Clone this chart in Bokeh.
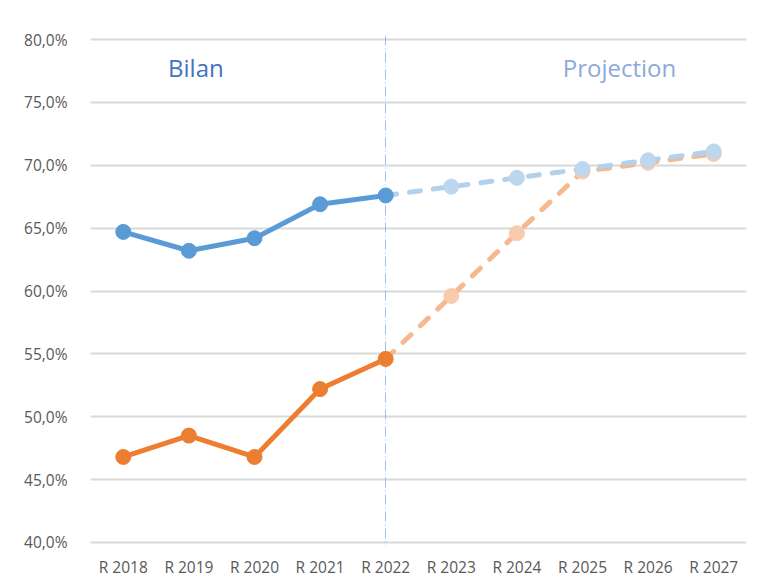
from bokeh.plotting import figure
from bokeh.models import Range1d, FactorRange, FixedTicker, CustomJSTickFormatter
from bokeh.core.properties import value
from bokeh.embed import file_html
from bokeh.resources import INLINE

# ---- data ----
categories = ["R 2018", "R 2019", "R 2020", "R 2021", "R 2022",
              "R 2023", "R 2024", "R 2025", "R 2026", "R 2027"]
bilan_years = categories[:5]
proj_years = categories[5:]
blue_bilan = [64.7, 63.2, 64.2, 66.9, 67.6]
orange_bilan = [46.8, 48.5, 46.8, 52.2, 54.6]
blue_proj = [68.3, 69.0, 69.7, 70.4, 71.1]
orange_proj = [59.6, 64.6, 69.5, 70.2, 70.9]
y_ticks = [40, 45, 50, 55, 60, 65, 70, 75, 80]
split_year = "R 2022"
section_labels = ["Bilan", "Projection"]

FONT = "Open Sans"
BLUE = "#5B9BD5"
ORANGE = "#ED7D31"
BLUE_L = "#BDD7EE"
ORANGE_L = "#F8CBAD"

p = figure(width=757, height=580, x_range=FactorRange(*categories, range_padding=0),
           y_range=Range1d(40 - 0.32, 80 + 0.32),
           output_backend="svg", toolbar_location=None,
           min_border_left=90, min_border_right=11, min_border_top=35, min_border_bottom=34)
p.outline_line_color = None
p.background_fill_color = "white"
p.border_fill_color = "white"

# axes
p.yaxis.ticker = FixedTicker(ticks=y_ticks)
p.yaxis.formatter = CustomJSTickFormatter(code="return tick.toFixed(1).replace('.', ',') + '%';")
for ax in (p.xaxis[0], p.yaxis[0]):
    ax.axis_line_color = None
    ax.major_tick_line_color = None
    ax.minor_tick_line_color = None
    ax.major_label_text_font = FONT
    ax.major_label_text_font_size = "15.5px"
    ax.major_label_text_color = "#595959"
p.yaxis.major_label_standoff = 17
p.xaxis.major_label_standoff = 3
p.xgrid.grid_line_color = None
p.ygrid.grid_line_color = "#d9d9d9"
p.ygrid.grid_line_width = 2

# divider
p.vspan(x=[split_year], line_color="#5B9BD5", line_alpha=0.6, line_width=1,
        line_dash="10 3 1 3")

# projection lines (start from last bilan point)
px = [bilan_years[-1]] + proj_years
p.line(px, [orange_bilan[-1]] + orange_proj, line_color="#F5B88F", line_width=5,
       line_dash="11 13", line_cap="round")
p.scatter(proj_years, orange_proj, size=15, fill_color=ORANGE_L, line_color=ORANGE_L)
p.line(px, [blue_bilan[-1]] + blue_proj, line_color="#B3D0EC", line_width=5,
       line_dash="11 13", line_cap="round")
p.scatter(proj_years, blue_proj, size=15, fill_color=BLUE_L, line_color=BLUE_L)

# bilan lines
p.line(bilan_years, orange_bilan, line_color=ORANGE, line_width=5, line_join="round")
p.scatter(bilan_years, orange_bilan, size=15, fill_color=ORANGE, line_color=ORANGE)
p.line(bilan_years, blue_bilan, line_color=BLUE, line_width=5, line_join="round")
p.scatter(bilan_years, blue_bilan, size=15, fill_color=BLUE, line_color=BLUE)

# section labels
p.text(x=["R 2019"], y=[77.8], text=[section_labels[0]], x_offset=7,
       text_font=value(FONT), text_font_size="24px", text_color="#4472C4",
       text_align="center", text_baseline="middle")
p.text(x=["R 2025"], y=[77.8], text=[section_labels[1]], x_offset=37,
       text_font=value(FONT), text_font_size="24px", text_color="#8EA9DB",
       text_align="center", text_baseline="middle")

open("out.html", "w").write(file_html(p, INLINE))
